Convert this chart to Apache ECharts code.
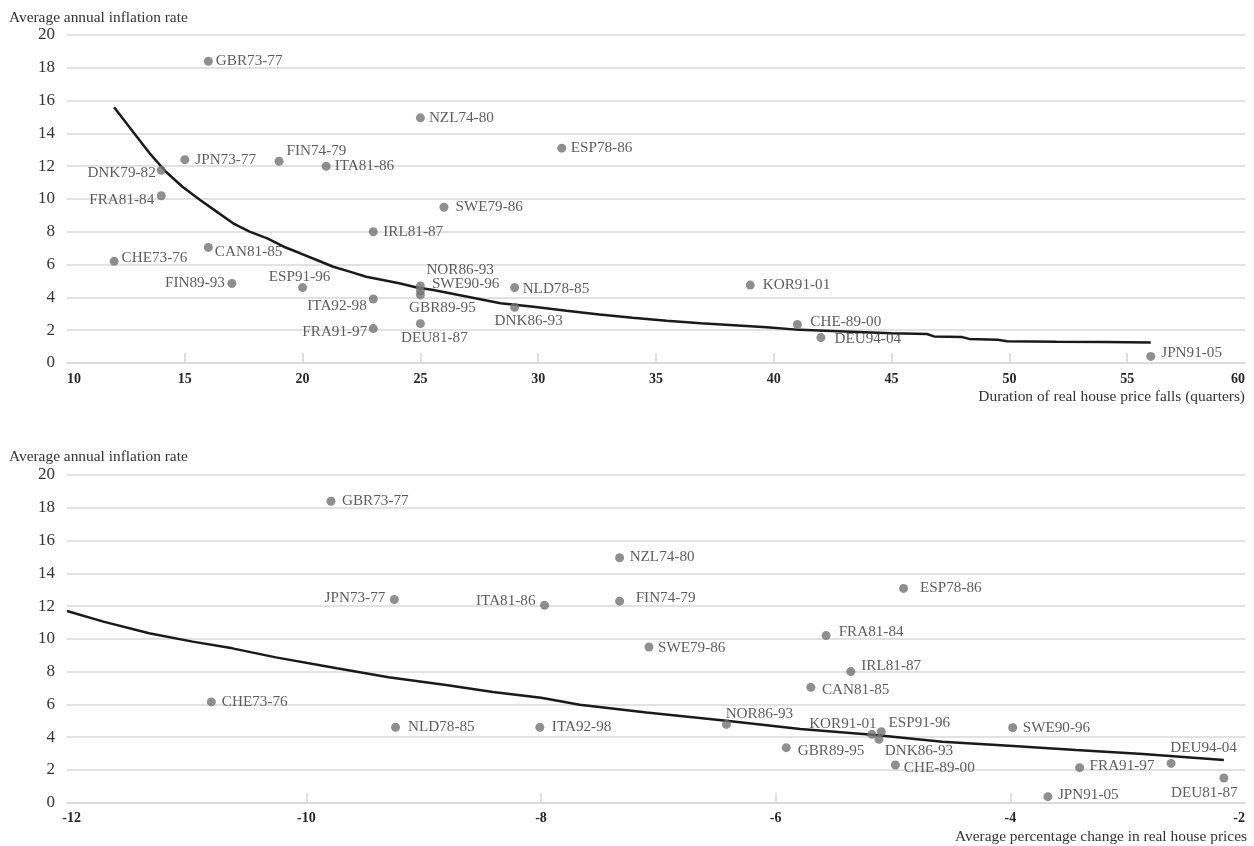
<!DOCTYPE html>
<html>
<head>
<meta charset="utf-8">
<script src="https://cdn.jsdelivr.net/npm/echarts@6/dist/echarts.min.js"></script>
<style>
  html, body { margin: 0; padding: 0; background: #fff; }
  #chart { width: 1254px; height: 846px; }
</style>
</head>
<body>
<div id="chart"></div>
<script>
// ---- Panel 1: duration of real house price falls vs inflation ----
const durNames = ['GBR73-77','JPN73-77','DNK79-82','FRA81-84','FIN74-79','ITA81-86','IRL81-87','CAN81-85','CHE73-76','FIN89-93','ESP91-96','ITA92-98','FRA91-97','NZL74-80','ESP78-86','SWE79-86','NOR86-93','SWE90-96','GBR89-95','NLD78-85','DNK86-93','DEU81-87','KOR91-01','CHE-89-00','DEU94-04','JPN91-05'];
const durQuarters = [16, 15, 14, 14, 19, 21, 23, 16, 12, 17, 20, 23, 23, 25, 31, 26, 25, 25, 25, 29, 29, 25, 39, 41, 42, 56];
const durInflation = [18.4, 12.4, 11.75, 10.2, 12.3, 12.0, 8.0, 7.05, 6.2, 4.85, 4.6, 3.9, 2.1, 14.95, 13.1, 9.5, 4.7, 4.4, 4.15, 4.6, 3.4, 2.4, 4.75, 2.35, 1.55, 0.4];

// fitted trend, panel 1
const durTrendX = [12, 12.8, 13.5, 14.2, 14.9, 15.65, 16.35, 17.05, 17.75, 18.5, 19.2, 19.9, 20.6, 21.3, 22, 22.7, 23.4, 24.1, 24.85, 25.55, 27, 28.4, 29.8, 31.2, 32.6, 34, 35.45, 36.9, 38.3, 39.7, 41.1, 43, 45, 46.5, 46.8, 48, 48.3, 49.5, 49.9, 52, 54, 56];
const durTrendY = [15.6, 14.1, 12.8, 11.66, 10.75, 9.94, 9.23, 8.52, 8.01, 7.6, 7.09, 6.69, 6.28, 5.87, 5.57, 5.26, 5.06, 4.86, 4.6, 4.45, 4.04, 3.64, 3.43, 3.19, 2.96, 2.76, 2.58, 2.42, 2.3, 2.18, 2.02, 1.92, 1.82, 1.77, 1.62, 1.58, 1.47, 1.42, 1.33, 1.3, 1.28, 1.25];

// ---- Panel 2: average change in real house prices vs inflation ----
const chgNames = ['GBR73-77','JPN73-77','CHE73-76','NLD78-85','NZL74-80','ITA81-86','FIN74-79','SWE79-86','ITA92-98','NOR86-93','GBR89-95','ESP78-86','FRA81-84','IRL81-87','CAN81-85','KOR91-01','ESP91-96','DNK86-93','CHE-89-00','SWE90-96','FRA91-97','JPN91-05','DEU94-04','DEU81-87'];
const chgPercent = [-9.79, -9.25, -10.81, -9.24, -7.33, -7.97, -7.33, -7.08, -8.01, -6.42, -5.91, -4.91, -5.57, -5.36, -5.70, -5.18, -5.10, -5.12, -4.98, -3.98, -3.41, -3.68, -2.63, -2.18];
const chgInflation = [18.4, 12.4, 6.15, 4.6, 14.95, 12.05, 12.3, 9.5, 4.6, 4.78, 3.36, 13.08, 10.2, 8.0, 7.04, 4.17, 4.33, 3.87, 2.3, 4.58, 2.14, 0.37, 2.4, 1.51];

// fitted trend, panel 2
const chgTrendX = [-12.04, -11.73, -11.34, -10.97, -10.63, -10.26, -9.74, -9.3, -8.81, -8.41, -8.0, -7.67, -7.1, -6.42, -5.79, -5.15, -4.58, -4.01, -3.44, -2.87, -2.18];
const chgTrendY = [11.7, 11.05, 10.34, 9.83, 9.42, 8.87, 8.2, 7.65, 7.18, 6.75, 6.4, 5.98, 5.5, 5.0, 4.5, 4.13, 3.72, 3.48, 3.22, 2.97, 2.6];

// axis ticks
const durTickMarks = [15, 20, 25, 30, 35, 40, 45, 50, 55];
const chgTickLabels = [-12, -10, -8, -6, -4, -2];
const chgTickMarks = [-10, -8, -6, -4];

// label placement: [position, distance or dx, dy]
const durLabelPos = {
  'GBR73-77': ['right', 3, 0], 'JPN73-77': ['right', 6, 0], 'DNK79-82': ['left', 1, 3],
  'FRA81-84': ['left', 2.5, 4], 'FIN74-79': ['right', 3, -10], 'ITA81-86': ['right', 4, 0],
  'IRL81-87': ['right', 5.5, 0], 'CAN81-85': ['right', 2, 4.5], 'CHE73-76': ['right', 3, -3.5],
  'FIN89-93': ['left', 2.5, 0], 'ESP91-96': ['inside', -3, -10.5], 'ITA92-98': ['left', 2, 6.5],
  'FRA91-97': ['left', 1.5, 3], 'NZL74-80': ['right', 4, 0], 'ESP78-86': ['right', 4.5, 0],
  'SWE79-86': ['right', 7, 0], 'NOR86-93': ['right', 1.5, -16], 'SWE90-96': ['right', 7, -6.5],
  'GBR89-95': ['inside', 22, 13], 'NLD78-85': ['right', 3.5, 1.5], 'DNK86-93': ['inside', 14, 14],
  'DEU81-87': ['inside', 14, 14], 'KOR91-01': ['right', 8, 0], 'CHE-89-00': ['right', 8.5, -2],
  'DEU94-04': ['right', 9, 1.5], 'JPN91-05': ['right', 6, -3]
};
const chgLabelPos = {
  'GBR73-77': ['right', 6.5, 0], 'JPN73-77': ['left', 4.5, -1.5], 'CHE73-76': ['right', 6, 0],
  'NLD78-85': ['right', 8, 0], 'NZL74-80': ['right', 5.5, -0.5], 'ITA81-86': ['left', 4.5, -4],
  'FIN74-79': ['right', 11.5, -3], 'SWE79-86': ['right', 4.5, 0.5], 'ITA92-98': ['right', 7.5, 0],
  'NOR86-93': ['inside', 33, -10], 'GBR89-95': ['right', 7, 3], 'ESP78-86': ['right', 12, 0],
  'FRA81-84': ['right', 8, -4], 'IRL81-87': ['right', 6, -5.5], 'CAN81-85': ['right', 6.5, 2.5],
  'KOR91-01': ['inside', -29, -10], 'ESP91-96': ['inside', 38, -9], 'DNK86-93': ['inside', 40, 11.5],
  'CHE-89-00': ['right', 4, 2.5], 'SWE90-96': ['right', 5.5, 0], 'FRA91-97': ['right', 5.5, -1.5],
  'JPN91-05': ['right', 5.5, -1.5], 'DEU94-04': ['inside', 32.5, -15], 'DEU81-87': ['inside', -19.5, 15.5]
};

const SERIF = "'Liberation Serif', 'Times New Roman', 'DejaVu Serif', serif";
const GRID_GREY = '#d9d9d9';
const DOT_GREY = '#737373';
const TEXT = '#333333';

function pointData(names, xs, ys, placement) {
  return names.map((n, i) => {
    const p = placement[n] || ['right', 4, 0];
    const label = { show: true, formatter: n };
    if (p[0] === 'inside') {
      label.position = 'inside';
      label.offset = [p[1], p[2]];
    } else {
      label.position = p[0];
      label.distance = p[1];
      label.offset = [0, p[2]];
    }
    return { name: n, value: [xs[i], ys[i]], label: label };
  });
}

function pairs(xs, ys) { return xs.map((x, i) => [x, ys[i]]); }

const yAxisBase = {
  type: 'value', min: 0, max: 20, interval: 2,
  axisLine: { show: false }, axisTick: { show: false },
  axisLabel: { fontFamily: SERIF, fontSize: 17, color: TEXT, margin: 12 },
  splitLine: { show: true, lineStyle: { color: GRID_GREY, width: 1.6 } }
};

const xLabelStyle = { fontFamily: SERIF, fontSize: 14, fontWeight: 'bold', color: '#262626', margin: 9 };
const titleStyle = { fontFamily: SERIF, fontSize: 15.4, fill: TEXT, verticalAlign: 'middle' };

const option = {
  animation: false,
  backgroundColor: '#ffffff',
  grid: [
    { left: 67, right: 9, top: 35, bottom: 483, containLabel: false, outerBoundsMode: 'none' },
    { left: 67, right: 9, top: 475, bottom: 43.3, containLabel: false, outerBoundsMode: 'none' }
  ],
  xAxis: [
    {
      type: 'value', gridIndex: 0, min: 10, max: 60, interval: 5,
      axisLine: { show: true, lineStyle: { color: GRID_GREY, width: 1.6 } },
      axisTick: { show: true, inside: true, length: 10, customValues: durTickMarks, lineStyle: { color: GRID_GREY, width: 1.6 } },
      axisLabel: Object.assign({ alignMinLabel: 'left', alignMaxLabel: 'right' }, xLabelStyle),
      splitLine: { show: false }
    },
    {
      type: 'value', gridIndex: 1, min: -12.04, max: -2,
      axisLine: { show: true, lineStyle: { color: GRID_GREY, width: 1.6 } },
      axisTick: { show: true, inside: true, length: 10, customValues: chgTickMarks, lineStyle: { color: GRID_GREY, width: 1.6 } },
      axisLabel: Object.assign({ customValues: chgTickLabels, alignMaxLabel: 'right' }, xLabelStyle),
      splitLine: { show: false }
    }
  ],
  yAxis: [
    Object.assign({ gridIndex: 0 }, yAxisBase),
    Object.assign({ gridIndex: 1 }, yAxisBase)
  ],
  graphic: [
    { type: 'text', x: 9, y: 18, style: Object.assign({ text: 'Average annual inflation rate', align: 'left' }, titleStyle) },
    { type: 'text', x: 1245, y: 397, style: Object.assign({ text: 'Duration of real house price falls (quarters)', align: 'right' }, titleStyle) },
    { type: 'text', x: 9, y: 457, style: Object.assign({ text: 'Average annual inflation rate', align: 'left' }, titleStyle) },
    { type: 'text', x: 1247, y: 836.5, style: Object.assign({ text: 'Average percentage change in real house prices', align: 'right' }, titleStyle) }
  ],
  series: [
    {
      type: 'line', xAxisIndex: 0, yAxisIndex: 0, z: 2,
      data: pairs(durTrendX, durTrendY),
      showSymbol: false, symbol: 'none', smooth: false, silent: true,
      lineStyle: { color: '#1a1a1a', width: 2.5 }
    },
    {
      type: 'scatter', xAxisIndex: 0, yAxisIndex: 0, z: 3,
      symbol: 'circle', symbolSize: 9,
      itemStyle: { color: DOT_GREY },
      label: { fontFamily: SERIF, fontSize: 15.2, color: TEXT },
      data: pointData(durNames, durQuarters, durInflation, durLabelPos)
    },
    {
      type: 'line', xAxisIndex: 1, yAxisIndex: 1, z: 2,
      data: pairs(chgTrendX, chgTrendY),
      showSymbol: false, symbol: 'none', smooth: false, silent: true,
      lineStyle: { color: '#1a1a1a', width: 2.5 }
    },
    {
      type: 'scatter', xAxisIndex: 1, yAxisIndex: 1, z: 3,
      symbol: 'circle', symbolSize: 9,
      itemStyle: { color: DOT_GREY },
      label: { fontFamily: SERIF, fontSize: 15.2, color: TEXT },
      data: pointData(chgNames, chgPercent, chgInflation, chgLabelPos)
    }
  ]
};

const chart = echarts.init(document.getElementById('chart'), null, { renderer: 'canvas' });
chart.setOption(option);
</script>
</body>
</html>
